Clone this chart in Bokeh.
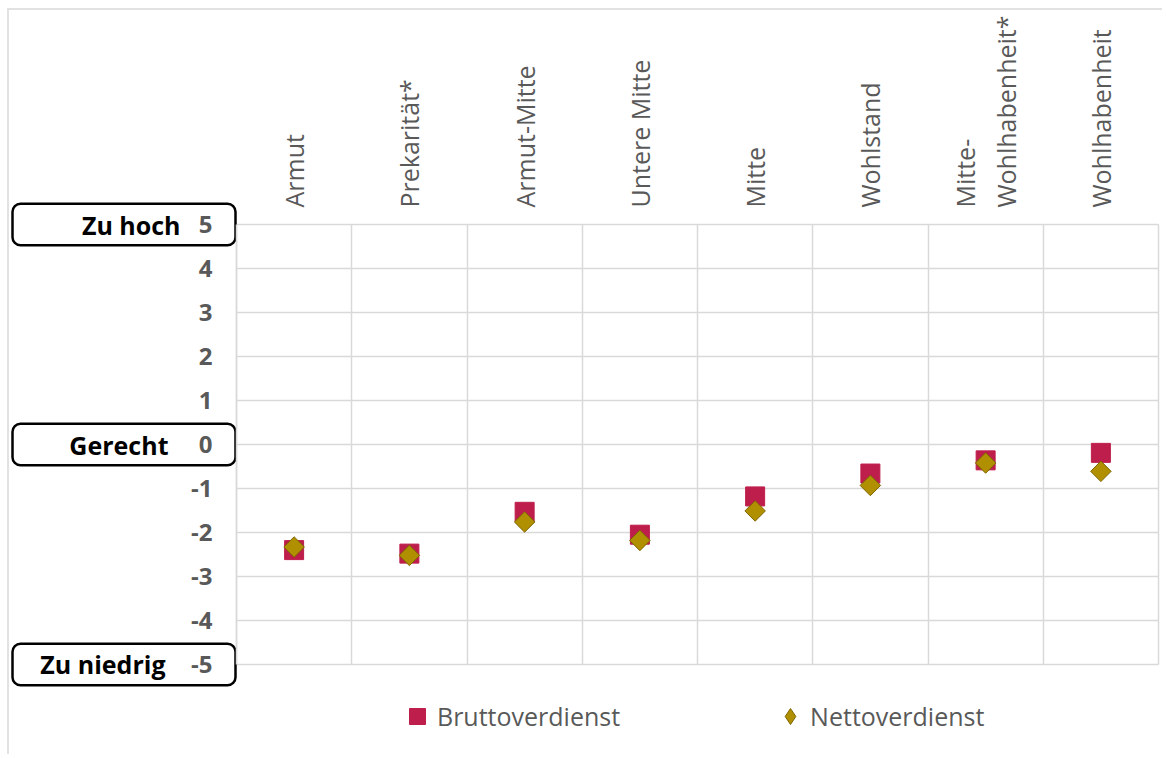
import numpy as np
from bokeh.plotting import figure
from bokeh.models import (FixedTicker, BoxAnnotation, Label, Legend, LegendItem, Range1d)
from bokeh.embed import file_html
from bokeh.resources import INLINE

# ---- data ----
categories = ["Armut", "Prekarität*", "Armut-Mitte", "Untere Mitte", "Mitte",
              "Wohlstand", "Mitte-\nWohlhabenheit*", "Wohlhabenheit"]
brutto = [-2.40, -2.48, -1.53, -2.05, -1.18, -0.66, -0.36, -0.19]
netto = [-2.33, -2.52, -1.76, -2.18, -1.51, -0.93, -0.42, -0.61]
y_ticks = [-5, -4, -3, -2, -1, 0, 1, 2, 3, 4, 5]
scale_labels = ["Zu hoch", "Gerecht", "Zu niedrig"]
scale_values = [5, 0, -5]
series_names = ["Bruttoverdienst", "Nettoverdienst"]

FONT = "Open Sans"
GRID = "#d9d9d9"
TXT = "#595959"
RED = "#be1e4b"
GOLD = "#b08f00"
GOLD_LINE = "#7d6500"

n = len(categories)
xpos = [i + 0.5 for i in range(n)]
y_lo, y_hi = y_ticks[0], y_ticks[-1]

# whole canvas is the frame; data region occupies a part of it
p = figure(width=1155, height=746, output_backend="svg", toolbar_location=None,
           x_range=Range1d(-1.9696, 8.052), y_range=Range1d(-7.091, 9.864),
           x_axis_location="above",
           min_border_left=0, min_border_right=0, min_border_top=0, min_border_bottom=0)
p.outline_line_color = None
p.background_fill_color = "white"
p.border_fill_color = "white"
p.styles = {"margin-left": "7px", "margin-top": "8px",
            "border-top": "2px solid #e2e2e2", "border-left": "2px solid #e2e2e2"}

# x axis (top) with category labels, drawn at y = 5
xa = p.xaxis[0]
xa.fixed_location = y_hi
xa.bounds = (0, n)
xa.ticker = FixedTicker(ticks=xpos)
xa.major_label_overrides = {x: c for x, c in zip(xpos, categories)}
xa.major_label_orientation = np.pi / 2
xa.major_label_text_font = FONT
xa.major_label_text_font_size = "25px"
xa.major_label_text_color = TXT
xa.major_label_standoff = 17
xa.axis_line_color = None
xa.major_tick_line_color = None
xa.minor_tick_line_color = None
xa.major_tick_out = 0
xa.major_tick_in = 0

# y axis drawn at x = 0
ya = p.yaxis[0]
ya.fixed_location = 0
ya.bounds = (y_lo, y_hi)
ya.ticker = FixedTicker(ticks=y_ticks)
ya.major_label_overrides = {t: str(t) for t in y_ticks}
ya.major_label_text_font = FONT
ya.major_label_text_font_size = "24px"
ya.major_label_text_font_style = "bold"
ya.major_label_text_color = TXT
ya.major_label_standoff = 24
ya.axis_line_color = GRID
ya.axis_line_width = 1.5
ya.major_tick_line_color = None
ya.minor_tick_line_color = None
ya.major_tick_out = 0
ya.major_tick_in = 0

p.xgrid.ticker = FixedTicker(ticks=list(range(n + 1)))
p.xgrid.cross_bounds = (y_lo, y_hi)
p.ygrid.ticker = FixedTicker(ticks=y_ticks)
p.ygrid.cross_bounds = (0, n)
for g in (p.xgrid[0], p.ygrid[0]):
    g.grid_line_color = GRID
    g.grid_line_width = 1.5

# rounded label boxes on the left
label_right = [171, 159, 156]
for v, txt, lx in zip(scale_values, scale_labels, label_right):
    box = BoxAnnotation(left=3, right=226, left_units="screen", right_units="screen",
                        top=v + 0.47, bottom=v - 0.47, border_radius=8,
                        fill_color="white", fill_alpha=1.0, line_color="black",
                        line_alpha=1.0, line_width=2.5, level="underlay")
    p.add_layout(box)
    p.add_layout(Label(x=lx, y=v, x_units="screen", text=txt, text_align="right",
                       text_baseline="middle", text_font=FONT, text_font_size="25px",
                       text_font_style="bold", text_color="black"))

r1 = p.scatter(xpos, brutto, marker="square", size=19, fill_color=RED, line_color=RED)
# diamond glyph (hidden under the rotated squares) used for the legend swatch
r2_leg = p.scatter(xpos, netto, marker="diamond", size=13,
                   fill_color=GOLD, line_color=GOLD_LINE, line_width=1)
r2 = p.scatter(xpos, netto, marker="square", angle=np.pi / 4, size=14.5,
               fill_color=GOLD, line_color=GOLD_LINE, line_width=1)

legend = Legend(items=[LegendItem(label=series_names[0], renderers=[r1]),
                       LegendItem(label=series_names[1], renderers=[r2_leg])],
                orientation="horizontal", location=(388, 20),
                glyph_width=40, glyph_height=40, label_standoff=0, spacing=150,
                padding=0, margin=0, border_line_color=None, background_fill_alpha=0,
                label_text_font=FONT, label_text_font_size="25px", label_text_color=TXT)
p.add_layout(legend)

open("out.html", "w").write(file_html(p, INLINE))
